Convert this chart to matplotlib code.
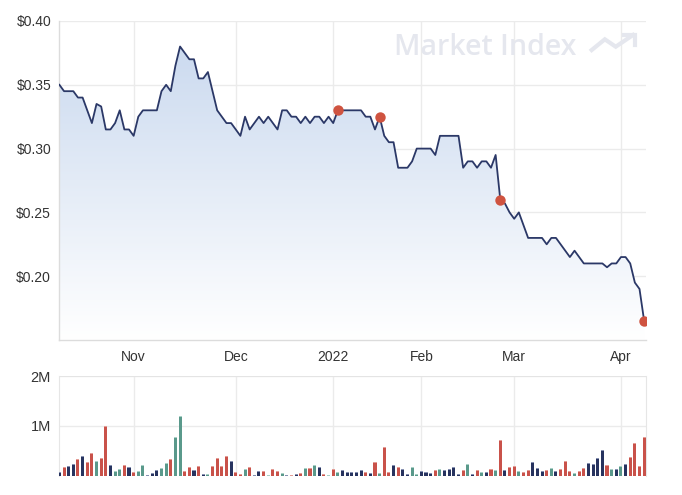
import numpy as np
import matplotlib
matplotlib.use("Agg")
import matplotlib.pyplot as plt
from matplotlib.colors import LinearSegmentedColormap
from matplotlib.lines import Line2D

plt.rcParams['font.family'] = ['Liberation Sans', 'DejaVu Sans']

# ---- data (trading-day index based) ----
price = [0.35, 0.345, 0.345, 0.345, 0.34, 0.34, 0.33, 0.32, 0.335, 0.333,
         0.315, 0.315, 0.32, 0.33, 0.315, 0.315, 0.31, 0.325, 0.33, 0.33,
         0.33, 0.33, 0.345, 0.35, 0.345, 0.365, 0.38, 0.375, 0.37, 0.37,
         0.355, 0.355, 0.36, 0.345, 0.33, 0.325, 0.32, 0.32, 0.315, 0.31,
         0.325, 0.315, 0.32, 0.325, 0.32, 0.325, 0.32, 0.315, 0.33, 0.33,
         0.325, 0.325, 0.32, 0.325, 0.32, 0.325, 0.325, 0.32, 0.325, 0.32,
         0.33, 0.33, 0.33, 0.33, 0.33, 0.33, 0.325, 0.325, 0.315, 0.325,
         0.31, 0.305, 0.305, 0.285, 0.285, 0.285, 0.29, 0.30, 0.30, 0.30,
         0.30, 0.295, 0.31, 0.31, 0.31, 0.31, 0.31, 0.285, 0.29, 0.29,
         0.285, 0.29, 0.29, 0.285, 0.295, 0.26, 0.257, 0.25, 0.245, 0.25,
         0.24, 0.23, 0.23, 0.23, 0.23, 0.225, 0.23, 0.23, 0.225, 0.22,
         0.215, 0.22, 0.215, 0.21, 0.21, 0.21, 0.21, 0.21, 0.207, 0.21,
         0.21, 0.215, 0.215, 0.21, 0.195, 0.19, 0.165]

volume_m = [0.08, 0.17, 0.19, 0.23, 0.33, 0.39, 0.27, 0.45, 0.29, 0.35,
            1.00, 0.21, 0.09, 0.13, 0.21, 0.17, 0.07, 0.09, 0.21, 0.01,
            0.05, 0.11, 0.15, 0.25, 0.33, 0.77, 1.19, 0.09, 0.17, 0.11,
            0.19, 0.03, 0.03, 0.19, 0.35, 0.19, 0.39, 0.29, 0.07, 0.03,
            0.13, 0.17, 0.01, 0.09, 0.09, 0.01, 0.13, 0.09, 0.05, 0.01,
            0.01, 0.03, 0.05, 0.15, 0.15, 0.21, 0.17, 0.03, 0.01, 0.13,
            0.07, 0.11, 0.07, 0.07, 0.07, 0.11, 0.07, 0.05, 0.27, 0.05,
            0.57, 0.07, 0.21, 0.17, 0.13, 0.03, 0.17, 0.03, 0.09, 0.07,
            0.05, 0.11, 0.13, 0.11, 0.13, 0.17, 0.03, 0.11, 0.23, 0.03,
            0.11, 0.07, 0.07, 0.13, 0.11, 0.71, 0.11, 0.17, 0.19, 0.09,
            0.07, 0.11, 0.27, 0.15, 0.09, 0.11, 0.15, 0.09, 0.13, 0.29,
            0.09, 0.05, 0.09, 0.15, 0.25, 0.23, 0.35, 0.51, 0.21, 0.13,
            0.13, 0.19, 0.23, 0.37, 0.65, 0.19, 0.77]

volume_kind = list("nrnnrnrrtrrnttrnrttnnnttrttrrnrntrrrrnrrtrnnrtrrtnrnrtrtnrtrtnnnnnrnrtrrnrnnttnnnrtnnnnrtnrtnrtrnrrtrrnnnrtnrrrtrrnnnnrtntnrrrr")

event_idx = [60, 69, 95, 126]

tick_pos = [16, 38, 59, 78, 98, 121]
tick_lab = ["Nov", "Dec", "2022", "Feb", "Mar", "Apr"]

price_ticks = [0.20, 0.25, 0.30, 0.35, 0.40]
price_tick_labels = ["$0.20", "$0.25", "$0.30", "$0.35", "$0.40"]
vol_ticks = [1e6, 2e6]
vol_tick_labels = ["1M", "2M"]

# ---- styles ----
LINE = "#2b3867"
DOT = "#cf5340"
GRID = "#ebebeb"
TXT = "#333333"
bar_col = {"r": "#c9524a", "n": "#27335f", "t": "#5a998b"}
cap_col = {"r": "#e39c95", "n": "#8690b0", "t": "#a9d0c6"}

W, H = 682, 495
fig = plt.figure(figsize=(W / 100, H / 100), dpi=100)
L, R = 59.4, 646
ax = fig.add_axes([L / W, 1 - 340 / H, (R - L) / W, (340 - 21) / H])
axv = fig.add_axes([L / W, 1 - 475.7 / H, (R - L) / W, (475.7 - 376) / H])

x = np.arange(len(price))
xlim = (0, 126.4)

# price panel
ax.set_xlim(*xlim)
ax.set_ylim(0.15, 0.40)
poly = ax.fill_between(x, price, 0.15, facecolor="none", edgecolor="none")
cmap = LinearSegmentedColormap.from_list("g", ["#ffffff", "#c7d7ee"])
grad = np.linspace(0, 1, 256).reshape(-1, 1)
im = ax.imshow(grad, extent=[xlim[0], xlim[1], 0.15, 0.40], origin="lower",
               aspect="auto", cmap=cmap, zorder=1)
path = poly.get_paths()[0]
im.set_clip_path(path, transform=ax.transData)
ax.plot(x, price, color=LINE, lw=1.3, zorder=3)
ax.plot(x[event_idx], np.array(price)[event_idx], "o", color=DOT, ms=7.5,
        mec="none", zorder=4)

ax.set_yticks(price_ticks)
ax.set_yticklabels(price_tick_labels)
ax.set_xticks(tick_pos)
ax.set_xticklabels(tick_lab)
ax.grid(True, color=GRID, lw=1, zorder=0)
ax.set_axisbelow(True)
ax.tick_params(length=0, labelsize=10, colors=TXT, pad=6)
ax.tick_params(axis="x", pad=7)
for s in ["top", "right"]:
    ax.spines[s].set_visible(False)
for s in ["left", "bottom"]:
    ax.spines[s].set_color("#dcdcdc")
    ax.spines[s].set_linewidth(1)

# watermark
wm = "#e5e7ee"
ax.text(0.571, 0.893, "Market Index", transform=ax.transAxes, fontsize=20.6,
        fontweight="semibold", family=["Open Sans", "DejaVu Sans"], color=wm,
        ha="left", va="baseline", zorder=2)
ax.add_line(Line2D([0.9074, 0.9298, 0.9484, 0.9778], [0.909, 0.9426, 0.9194, 0.9561],
                   transform=ax.transAxes, color=wm, lw=3, solid_joinstyle="miter", zorder=2))
ax.add_line(Line2D([0.9625, 0.9821, 0.9821], [0.9561, 0.9561, 0.9248],
                   transform=ax.transAxes, color=wm, lw=3, solid_joinstyle="miter", zorder=2))

# volume panel
vol = np.array(volume_m) * 1e6
cols = [bar_col[k] for k in volume_kind]
caps = [cap_col[k] for k in volume_kind]
axv.set_xlim(*xlim)
axv.set_ylim(0, 2e6)
bw = 0.66
axv.bar(x, vol, width=bw, color=cols, zorder=3)
cap_h = 0.018e6
axv.bar(x, np.minimum(cap_h, vol), bottom=vol - np.minimum(cap_h, vol), width=bw,
        color=caps, zorder=4)
axv.set_yticks(vol_ticks)
axv.set_yticklabels(vol_tick_labels)
axv.set_xticks(tick_pos)
axv.set_xticklabels([])
axv.grid(True, color=GRID, lw=1, zorder=0)
axv.set_axisbelow(True)
axv.tick_params(length=0, labelsize=10.5, colors=TXT, pad=6)
for s in ["top", "bottom"]:
    axv.spines[s].set_visible(False)
for s in ["left", "right"]:
    axv.spines[s].set_color("#e6e6e6")
axv.axhline(2e6, color="#e3e3e3", lw=1.2, zorder=1)

fig.savefig("out.png", dpi=100)
